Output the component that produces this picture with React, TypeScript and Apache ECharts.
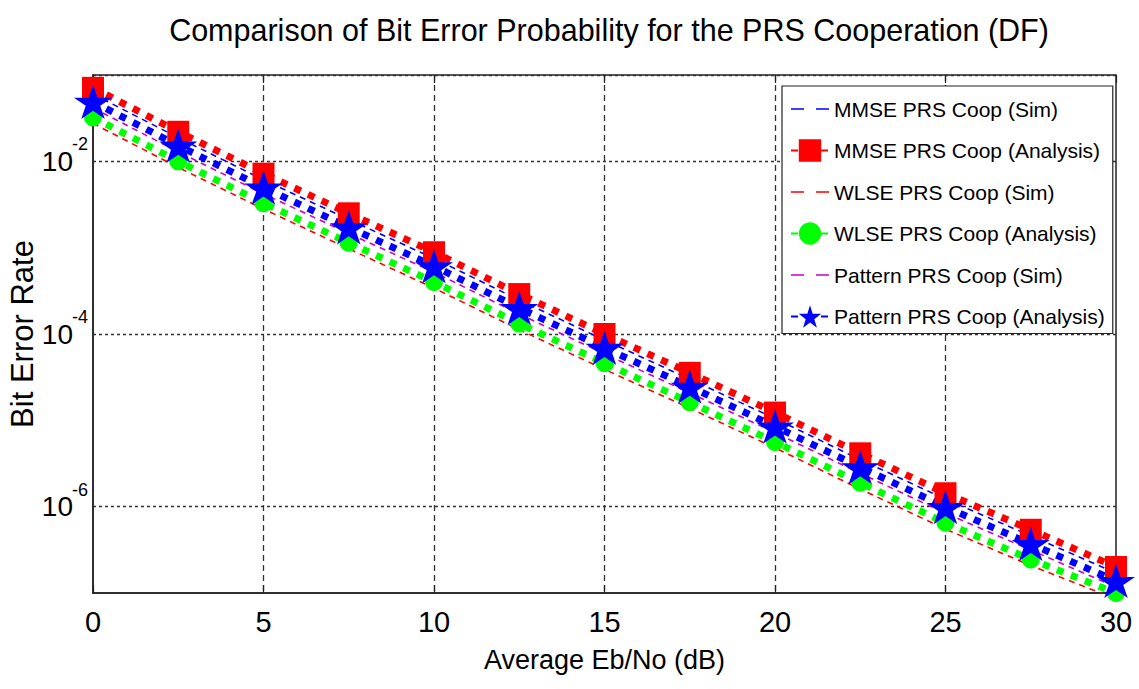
import React, { useEffect, useRef } from 'react';
import * as echarts from 'echarts';

// Eb/No sample points (dB)
const ebNo = [0, 2.5, 5, 7.5, 10, 12.5, 15, 17.5, 20, 22.5, 25, 27.5, 30];

// Bit error rate curves
const mmseSim = [0.06, 0.0188, 0.0061, 0.00212, 7.5e-4, 2.47e-4, 8.5e-5, 3.0e-5, 1.05e-5, 3.5e-6, 1.22e-6, 4.6e-7, 1.7e-7];
const mmseAnalysis = [0.071, 0.022, 0.0072, 0.0025, 8.85e-4, 2.9e-4, 1.0e-4, 3.55e-5, 1.23e-5, 4.15e-6, 1.43e-6, 5.4e-7, 2.0e-7];
const wlseSim = [0.0275, 0.0085, 0.0028, 9.7e-4, 3.4e-4, 1.12e-4, 3.9e-5, 1.38e-5, 4.8e-6, 1.6e-6, 5.5e-7, 2.08e-7, 8.5e-8];
const wlseAnalysis = [0.0323, 0.01, 0.00328, 0.00114, 4.0e-4, 1.32e-4, 4.6e-5, 1.62e-5, 5.6e-6, 1.89e-6, 6.5e-7, 2.45e-7, 1.0e-7];
const patternSim = [0.0415, 0.0129, 0.0042, 0.00146, 5.2e-4, 1.7e-4, 5.9e-5, 2.08e-5, 7.2e-6, 2.43e-6, 8.4e-7, 3.15e-7, 1.17e-7];
const patternAnalysis = [0.0489, 0.0152, 0.00497, 0.00172, 6.1e-4, 2.0e-4, 6.9e-5, 2.45e-5, 8.5e-6, 2.86e-6, 9.9e-7, 3.7e-7, 1.38e-7];

const seriesNames = [
  'MMSE PRS Coop (Sim)',
  'MMSE PRS Coop (Analysis)',
  'WLSE PRS Coop (Sim)',
  'WLSE PRS Coop (Analysis)',
  'Pattern PRS Coop (Sim)',
  'Pattern PRS Coop (Analysis)',
];

// Decades that carry a label and a grid line
const labelledExponents = [-6, -4, -2];

const titleText = 'Comparison of Bit Error Probability for the PRS Cooperation (DF)';
const xName = 'Average Eb/No (dB)';
const yName = 'Bit Error Rate';

const FONT = "'Liberation Sans', Arial, Helvetica, sans-serif";

const STAR =
  'path://M0,-1 L0.2245,-0.309 L0.951,-0.309 L0.363,0.118 L0.588,0.809 L0,0.382 L-0.588,0.809 L-0.363,0.118 L-0.951,-0.309 L-0.2245,-0.309 Z';

const Y_MIN = 1e-7;
const Y_MAX = 0.1;

const exponentOf = (v: number) => Math.round(Math.log10(v));

const pairs = (ys: number[]) => ebNo.map((x, i) => [x, ys[i]]);

const simLine = (name: string, ys: number[], color: string) => ({
  name,
  type: 'line',
  data: pairs(ys),
  symbol: 'none',
  silent: true,
  lineStyle: { color, width: 1.6, type: [6, 5] },
  itemStyle: { color },
});

const analysisLine = (name: string, ys: number[], color: string, symbol: string, size: number | number[]) => ({
  name,
  type: 'line',
  data: pairs(ys),
  symbol,
  symbolSize: size,
  symbolKeepAspect: true,
  showAllSymbol: true,
  silent: true,
  lineStyle: { color, width: 7, type: [7, 8], cap: 'butt' },
  itemStyle: { color },
});

export default function App() {
  const ref = useRef<HTMLDivElement>(null);

  useEffect(() => {
    if (!ref.current) return;
    const chart = echarts.init(ref.current, null, { renderer: 'svg' });
    chart.setOption({
      animation: false,
      backgroundColor: '#fff',
      title: {
        text: titleText,
        left: 604,
        textAlign: 'center',
        top: 9,
        textStyle: { fontFamily: FONT, fontSize: 30.5, fontWeight: 'normal', color: '#000' },
      },
      grid: {
        left: 93,
        right: 23,
        top: 75,
        bottom: 96,
        show: true,
        outerBoundsMode: 'none',
        containLabel: false,
        borderColor: '#222',
        borderWidth: 1.5,
        backgroundColor: 'transparent',
      },
      legend: {
        orient: 'vertical',
        left: 782,
        top: 86,
        padding: [8, 8, 2, 8],
        itemGap: 11.5,
        itemWidth: 38,
        itemHeight: 28,
        backgroundColor: '#fff',
        borderColor: '#222',
        borderWidth: 1.2,
        selectedMode: false,
        textStyle: { fontFamily: FONT, fontSize: 21, color: '#000', lineHeight: 30 },
        data: seriesNames.map((n, i) =>
          i % 2 === 0
            ? {
                name: n,
                lineStyle: { type: [13, 12], width: 1.6 },
                itemStyle: { color: 'rgba(0,0,0,0)', borderWidth: 0 },
              }
            : { name: n }
        ),
      },
      xAxis: [
        {
          type: 'value',
          min: 0,
          max: 30,
          interval: 5,
          name: xName,
          nameLocation: 'middle',
          nameGap: 53,
          nameMoveOverlap: false,
          nameTextStyle: { fontFamily: FONT, fontSize: 27, color: '#000' },
          axisLine: { show: true, lineStyle: { color: '#222', width: 1.5 } },
          axisTick: { show: true, inside: true, length: 8, lineStyle: { color: '#222', width: 1.2 } },
          axisLabel: { fontFamily: FONT, fontSize: 29, color: '#000', margin: 14 },
          splitLine: {
            show: true,
            showMinLine: false,
            showMaxLine: false,
            lineStyle: { color: '#333', width: 1.3, type: [6, 4] },
          },
        },
        {
          type: 'value',
          position: 'top',
          min: 0,
          max: 30,
          interval: 5,
          axisLine: { show: false },
          axisTick: { show: true, inside: true, length: 8, lineStyle: { color: '#222', width: 1.2 } },
          axisLabel: { show: false },
          splitLine: { show: false },
        },
      ],
      yAxis: [
        {
          type: 'log',
          logBase: 10,
          min: Y_MIN,
          max: Y_MAX,
          name: yName,
          nameLocation: 'middle',
          nameGap: 55,
          nameMoveOverlap: false,
          nameTextStyle: { fontFamily: FONT, fontSize: 31, color: '#000' },
          axisLine: { show: true, lineStyle: { color: '#222', width: 1.5 } },
          axisTick: { show: false },
          axisLabel: {
            margin: 20,
            fontFamily: FONT,
            fontSize: 28,
            color: '#000',
            formatter: (v: number) => (labelledExponents.includes(exponentOf(v)) ? '10' : ''),
          },
          splitLine: {
            show: true,
            // one line per decade; only the even decades are drawn visibly
            lineStyle: { color: ['rgba(0,0,0,0)', '#333'], width: 1.3, type: [3, 3] },
          },
        },
        {
          // exponents of the decade labels, set as superscripts
          type: 'log',
          logBase: 10,
          min: Y_MIN,
          max: Y_MAX,
          position: 'left',
          axisLine: { show: false },
          axisTick: { show: false },
          splitLine: { show: false },
          axisLabel: {
            margin: 5,
            fontFamily: FONT,
            fontSize: 18,
            lineHeight: 34,
            verticalAlign: 'bottom',
            color: '#000',
            formatter: (v: number) => {
              const e = exponentOf(v);
              return labelledExponents.includes(e) ? String(e) : '';
            },
          },
        },
      ],
      series: [
        simLine(seriesNames[0], mmseSim, '#0000ff'),
        analysisLine(seriesNames[1], mmseAnalysis, '#ff0000', 'rect', 22),
        simLine(seriesNames[2], wlseSim, '#ff0000'),
        analysisLine(seriesNames[3], wlseAnalysis, '#00ff00', 'circle', 18),
        simLine(seriesNames[4], patternSim, '#cc00cc'),
        analysisLine(seriesNames[5], patternAnalysis, '#0000ff', STAR, [38, 36]),
      ],
    });
    return () => chart.dispose();
  }, []);

  return (
    <div
      ref={ref}
      style={{ position: 'fixed', left: 0, top: 0, width: 1139, height: 689, background: '#fff' }}
    />
  );
}
